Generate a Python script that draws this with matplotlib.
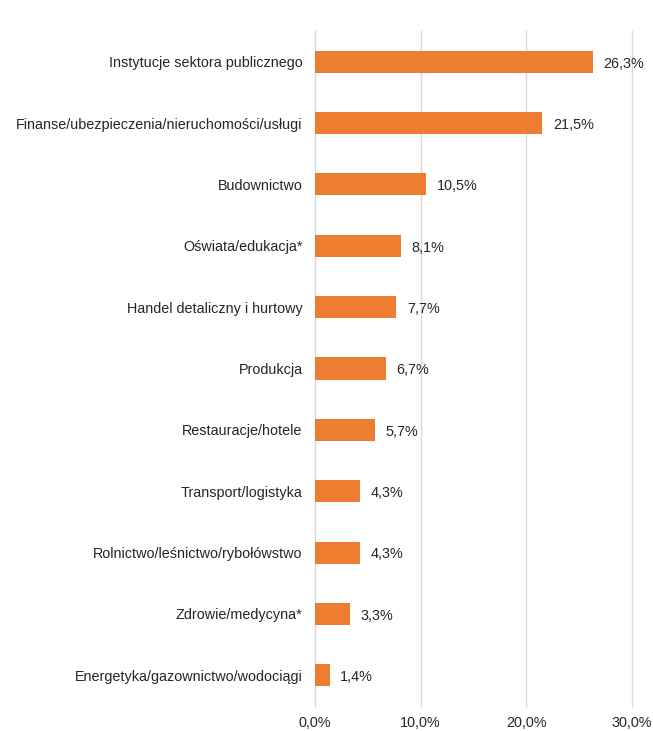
import matplotlib
matplotlib.use("Agg")
import matplotlib.pyplot as plt
from matplotlib.ticker import FuncFormatter

plt.rcParams['font.family'] = ['Liberation Sans', 'DejaVu Sans']

# data
categories = [
    "Instytucje sektora publicznego",
    "Finanse/ubezpieczenia/nieruchomości/usługi",
    "Budownictwo",
    "Oświata/edukacja*",
    "Handel detaliczny i hurtowy",
    "Produkcja",
    "Restauracje/hotele",
    "Transport/logistyka",
    "Rolnictwo/leśnictwo/rybołówstwo",
    "Zdrowie/medycyna*",
    "Energetyka/gazownictwo/wodociągi",
]
values = [26.3, 21.5, 10.5, 8.1, 7.7, 6.7, 5.7, 4.3, 4.3, 3.3, 1.4]
xticks = [0, 10, 20, 30]

fig = plt.figure(figsize=(6.53, 7.31), dpi=100)
ax = fig.add_axes([315/653, 1 - 706/731, (632 - 315)/653, (706 - 31)/731])

ypos = list(range(len(categories)))
ax.barh(ypos, values, height=0.36, color='#ED7D31', zorder=3)
ax.set_ylim(len(categories) - 0.5, -0.5)
ax.set_xlim(0, 30)
ax.set_yticks(ypos)
ax.set_yticklabels(categories, fontsize=10.4, color='#262626')
ax.set_xticks(xticks)
ax.xaxis.set_major_formatter(FuncFormatter(lambda v, p: f"{v:.1f}%".replace('.', ',')))
ax.tick_params(axis='x', length=0, pad=7, labelsize=10.4, labelcolor='#262626')
ax.tick_params(axis='y', length=0, pad=9)
ax.grid(axis='x', color='#d9d9d9', linewidth=1, zorder=0)
for gl in ax.xaxis.get_gridlines():
    gl.set_clip_on(False)
for s in ax.spines.values():
    s.set_visible(False)

for y, v in zip(ypos, values):
    ax.text(v + 1.0, y + 0.03, f"{v:.1f}%".replace('.', ','), va='center', ha='left',
            fontsize=10.4, color='#262626')

fig.savefig("out.png", dpi=100)
